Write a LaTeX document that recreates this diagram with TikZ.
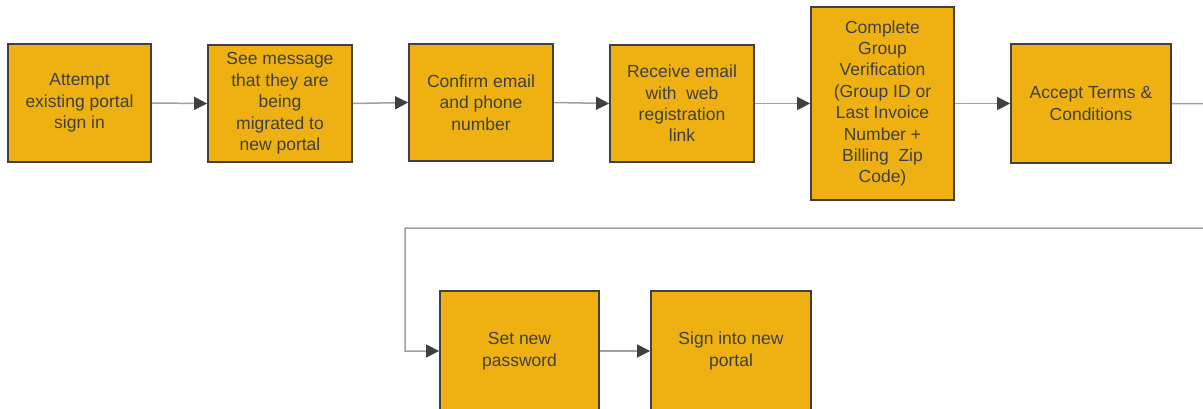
\documentclass[tikz,border=0pt]{standalone}
\usepackage{fontspec}
\setmainfont{Liberation Sans}
\usetikzlibrary{arrows.meta}
\definecolor{boxfill}{RGB}{238,177,17}
\definecolor{boxline}{RGB}{64,64,64}
\definecolor{conn}{RGB}{160,160,160}
\begin{document}
\begin{tikzpicture}[x=1pt,y=-1pt,
  stepbox/.style={draw=boxline,fill=boxfill,line width=1.8pt,align=center,
    text=boxline,inner sep=0pt,font=\fontsize{17.5}{21.4}\selectfont},
  flow/.style={draw=conn,line width=1.5pt,-{Triangle[length=13pt,width=13pt,fill=boxline,color=boxline]}}]
\useasboundingbox (0,0) rectangle (1203,408);
\clip (0,0) rectangle (1203,408);
\node[stepbox,minimum width=143pt,minimum height=118pt] (a) at (79.5,103) {Attempt\\existing portal\\sign in};
\node[stepbox,minimum width=144pt,minimum height=117pt] (b) at (280,103.5) {See message\\that they are\\being\\migrated to\\new portal};
\node[stepbox,minimum width=144pt,minimum height=117pt] (c) at (481,102.5) {Confirm email\\and phone\\number};
\node[stepbox,minimum width=144pt,minimum height=117pt] (d) at (682,103.5) {Receive email\\with\ \ web\\registration\\link};
\node[stepbox,minimum width=143pt,minimum height=193pt] (e) at (882.5,103.5) {Complete\\Group\\Verification\\(Group ID or\\Last Invoice\\Number +\\Billing\ \ Zip\\Code)};
\node[stepbox,minimum width=160pt,minimum height=119pt] (f) at (1091,103.5) {Accept Terms \&\\Conditions};
\node[stepbox,minimum width=159pt,minimum height=120pt] (g) at (519.5,351) {Set new\\password};
\node[stepbox,minimum width=160pt,minimum height=120pt] (h) at (731,351) {Sign into new\\portal};
\coordinate (r1) at (1240,104);
\coordinate (r2) at (1240,228);
\coordinate (l1) at (405,228);
\coordinate (l2) at (405,351);
\draw[flow] (a.east) -- (b.west);
\draw[flow] (b.east) -- (c.west);
\draw[flow] (c.east) -- (d.west);
\draw[flow] (d.east) -- (e.west);
\draw[flow] (e.east) -- (f.west);
\draw[flow] (f.east) -- (r1) -- (r2) -- (l1) -- (l2) -- (g.west);
\draw[flow] (g.east) -- (h.west);
\end{tikzpicture}
\end{document}
